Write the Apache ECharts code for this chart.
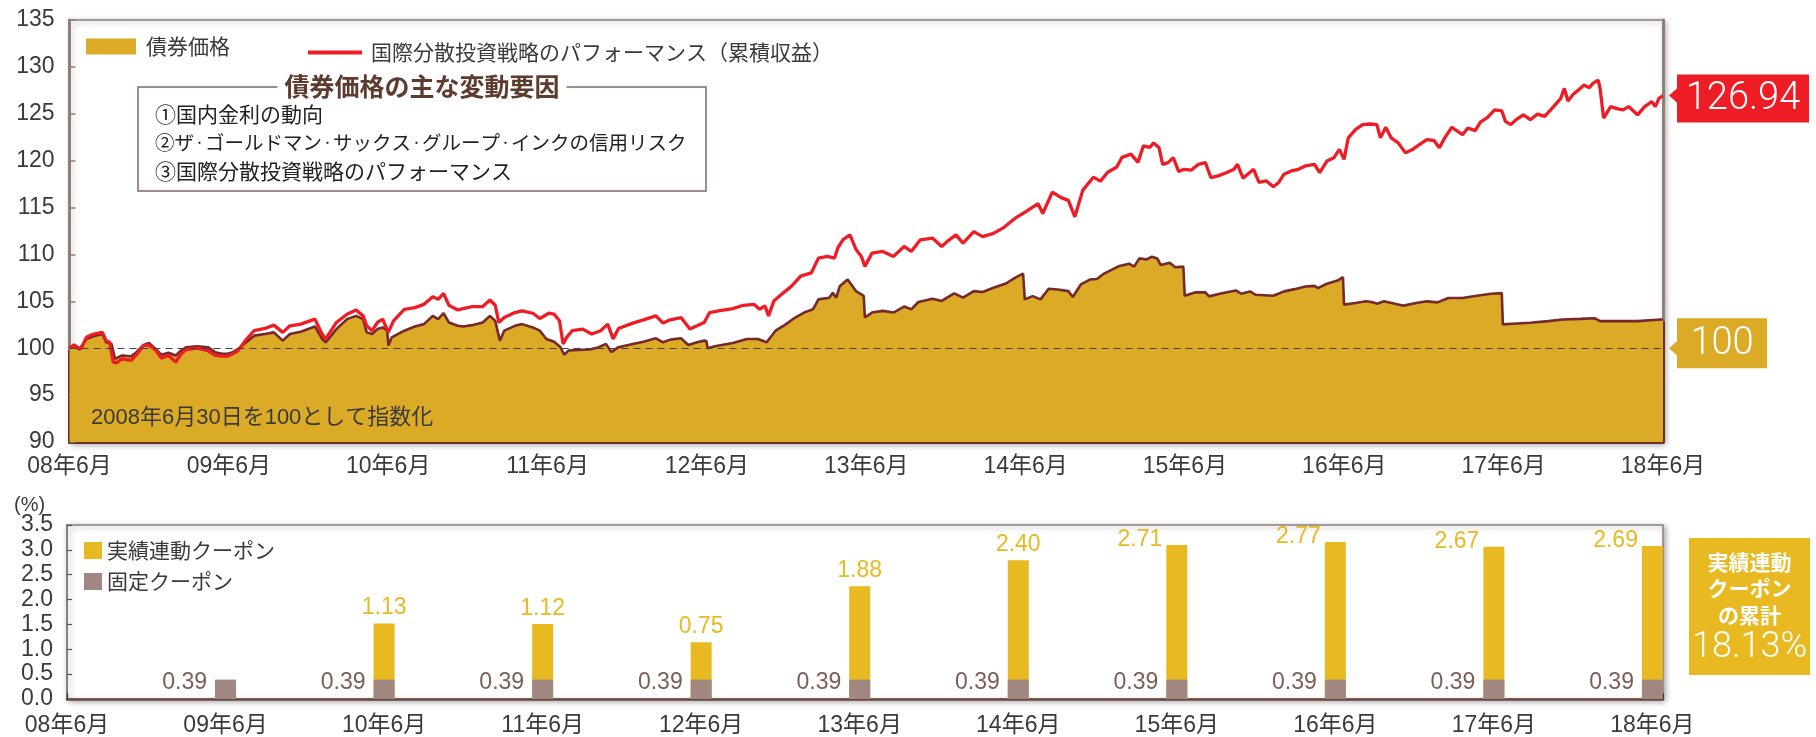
<!DOCTYPE html>
<html><head><meta charset="utf-8">
<script src="https://cdn.jsdelivr.net/npm/echarts@6/dist/echarts.min.js"></script>
<style>html,body{margin:0;padding:0;background:#fff}#c{width:1816px;height:737px}</style>
</head><body><div id="c"></div>
<script>
// ---------------- data ----------------
// x = months since 2008-06-30
const monthTickLabels = ['08年6月','09年6月','10年6月','11年6月','12年6月','13年6月','14年6月','15年6月','16年6月','17年6月','18年6月'];
const bondPrice = [[0,100],[0.33,100.28],[0.74,99.86],[1.27,100.99],[1.81,101.27],[2.48,101.51],[2.75,100.63],[3.16,100.46],[3.43,98.87],[3.96,99.23],[4.64,99.15],[5.04,99.58],[5.58,100.35],[5.98,100.56],[6.52,99.86],[6.92,99.30],[7.46,99.51],[8.00,99.23],[8.40,99.75],[8.80,100.11],[9.61,100.21],[10.42,100.11],[10.96,99.58],[11.49,99.40],[11.90,99.40],[12.30,99.58],[12.70,99.93],[13.24,100.56],[13.91,101.34],[14.72,101.51],[15.39,101.69],[16.06,100.81],[16.60,101.51],[17.41,101.76],[18.48,102.32],[19.02,100.99],[19.29,100.63],[20.10,102.04],[20.90,103.10],[21.58,103.45],[22.11,103.10],[22.38,101.69],[22.79,101.51],[23.19,102.04],[23.59,102.22],[23.92,101.87],[24.02,100.28],[24.27,101.16],[25.21,101.87],[26.01,102.32],[26.69,102.57],[27.36,103.45],[27.76,103.10],[28.17,103.73],[28.57,102.75],[29.24,102.39],[29.64,102.32],[30.32,102.46],[31.12,102.75],[31.66,103.45],[32.06,102.92],[32.41,100.81],[32.74,101.87],[33.54,102.39],[34.08,102.57],[34.89,102.22],[35.42,101.87],[35.91,100.99],[36.50,100.70],[36.98,100.11],[37.25,99.30],[37.58,99.75],[38.38,99.82],[39.19,99.86],[39.86,100.11],[40.00,100.21],[40.40,100.46],[40.80,99.58],[41.34,100.11],[42.42,100.46],[43.22,100.70],[44.16,101.06],[44.70,100.63],[45.24,100.92],[46.05,101.06],[46.59,100.35],[47.26,100.63],[47.80,100.81],[47.96,100.77],[48.06,100.00],[48.60,100.21],[49.95,100.56],[51.02,100.99],[51.83,100.99],[52.50,100.63],[53.17,101.87],[53.85,102.46],[54.65,103.27],[55.32,103.80],[55.99,104.15],[56.40,105.21],[57.21,105.39],[57.48,105.92],[57.74,105.39],[58.01,106.62],[58.60,107.32],[59.22,106.09],[59.63,105.74],[59.81,105.56],[59.90,103.27],[60.43,103.80],[61.24,103.98],[62.05,103.80],[62.85,104.44],[63.39,104.15],[63.93,104.93],[65.00,105.28],[65.68,105.04],[66.62,105.85],[67.29,105.39],[68.10,106.09],[68.77,105.99],[69.58,106.44],[70.52,106.90],[71.19,107.50],[71.81,107.96],[71.94,105.21],[72.53,105.56],[73.12,105.21],[73.74,106.34],[74.41,106.27],[75.22,106.09],[75.55,105.46],[76.16,106.80],[76.84,107.32],[77.37,107.39],[77.91,107.96],[78.99,108.73],[79.79,109.01],[80.17,108.70],[80.57,109.58],[81.11,109.47],[81.51,109.75],[81.91,109.58],[82.18,108.87],[82.85,109.12],[83.26,108.63],[83.88,108.70],[83.98,105.60],[84.74,105.95],[85.54,105.95],[85.81,105.53],[86.62,105.81],[87.83,106.16],[88.23,105.81],[88.90,106.06],[89.31,105.70],[90.65,105.60],[91.46,106.06],[92.27,106.30],[93.07,106.58],[93.75,106.65],[94.01,106.41],[94.69,106.87],[95.49,107.22],[95.90,107.57],[95.98,104.65],[96.84,104.82],[97.64,105.00],[98.18,104.89],[98.45,104.75],[98.99,105.00],[99.80,104.75],[100.47,104.54],[101.41,104.82],[102.22,105.00],[103.02,104.89],[103.83,105.35],[104.90,105.35],[105.98,105.60],[107.06,105.81],[107.86,105.88],[107.94,102.54],[108.67,102.61],[110.01,102.71],[111.36,102.89],[112.43,103.06],[113.78,103.13],[114.85,103.20],[115.26,102.89],[116.74,102.89],[118.08,102.89],[119.83,103.06],[120,103.06]];
const strategyPerf = [[0,100],[0.33,100.35],[0.60,100.11],[0.87,99.93],[1.27,101.16],[1.81,101.51],[2.48,101.69],[2.75,100.81],[3.02,100.63],[3.29,98.52],[3.56,98.45],[3.96,98.87],[4.64,98.70],[5.04,99.30],[5.58,100.28],[5.98,100.35],[6.52,99.75],[6.92,98.94],[7.46,99.23],[8.00,98.52],[8.40,99.40],[8.80,99.86],[9.61,100.00],[10.42,99.75],[10.96,99.23],[11.49,99.15],[11.90,99.15],[12.30,99.40],[12.70,99.75],[13.24,100.81],[13.91,101.87],[14.72,102.11],[15.39,102.46],[16.06,101.69],[16.60,102.39],[17.41,102.57],[18.48,103.10],[19.02,101.51],[19.29,100.99],[20.10,102.75],[20.90,103.63],[21.58,104.08],[22.11,103.45],[22.38,102.39],[22.79,101.87],[23.19,102.75],[23.59,103.10],[24.00,101.69],[24.40,102.92],[25.21,104.15],[26.01,104.33],[26.69,104.68],[27.36,105.49],[27.76,105.21],[28.17,105.85],[28.57,104.58],[29.24,104.08],[29.64,104.23],[30.32,104.44],[31.12,104.44],[31.66,105.14],[32.06,104.58],[32.33,102.75],[32.74,103.27],[33.54,103.80],[34.08,103.98],[34.89,103.73],[35.42,103.17],[36.10,103.73],[36.50,103.63],[36.90,102.92],[37.17,100.46],[37.44,101.16],[37.85,101.87],[38.65,102.04],[39.32,101.51],[40.00,101.87],[40.53,102.57],[40.94,100.99],[41.34,102.11],[42.42,102.68],[43.22,103.03],[44.16,103.45],[44.70,102.68],[45.24,103.03],[46.05,103.27],[46.72,102.04],[47.26,102.39],[47.80,102.75],[48.20,103.80],[48.87,103.98],[49.95,104.23],[50.75,104.58],[51.56,104.68],[51.96,104.15],[52.37,104.51],[52.64,103.45],[53.04,105.04],[53.71,105.85],[54.38,106.62],[55.06,107.68],[55.86,108.03],[56.40,109.61],[57.07,109.79],[57.61,109.61],[57.88,110.77],[58.28,111.62],[58.77,112.08],[59.22,110.56],[59.63,109.79],[59.90,108.73],[60.43,110.14],[61.24,110.32],[62.05,109.79],[62.85,110.85],[63.39,110.32],[64.06,111.55],[65.00,111.73],[65.68,110.85],[66.08,111.37],[66.75,112.08],[67.29,111.20],[68.10,112.43],[68.77,111.90],[69.58,112.25],[70.38,112.89],[71.19,113.84],[71.99,114.54],[72.94,115.42],[73.29,114.37],[74.01,116.65],[74.68,116.06],[75.22,115.77],[75.71,114.01],[76.30,116.83],[77.10,118.24],[77.64,117.82],[78.18,118.77],[78.85,119.30],[79.26,120.35],[79.93,120.70],[80.47,119.82],[80.87,121.58],[81.35,121.41],[81.64,121.90],[82.05,121.37],[82.32,119.61],[82.72,119.79],[83.12,120.32],[83.53,118.84],[83.93,119.08],[84.47,118.98],[85.01,119.61],[85.54,119.79],[85.95,118.20],[86.49,118.38],[87.16,118.73],[87.69,119.08],[87.96,119.61],[88.37,118.13],[89.17,119.08],[89.58,117.68],[90.11,117.85],[90.65,117.22],[91.06,117.68],[91.46,118.56],[92.00,118.91],[92.54,119.08],[93.07,119.44],[93.75,119.61],[94.15,118.73],[94.69,119.96],[95.22,120.32],[95.63,121.20],[95.98,120.14],[96.30,122.43],[96.84,123.31],[97.38,123.84],[97.91,123.91],[98.45,123.84],[98.72,122.43],[99.12,123.56],[99.53,122.43],[100.06,121.90],[100.60,120.85],[101.14,121.20],[101.68,121.73],[102.22,122.25],[102.75,122.15],[103.16,121.37],[103.56,122.43],[104.10,123.56],[104.90,122.78],[105.31,123.49],[105.85,123.20],[106.25,124.12],[106.79,124.61],[107.32,125.42],[107.86,125.32],[108.13,124.19],[108.53,123.84],[108.94,124.37],[109.48,124.89],[110.01,124.37],[110.55,124.96],[111.09,124.72],[111.76,125.77],[112.30,126.65],[112.57,127.71],[112.84,126.37],[113.24,127.08],[113.78,127.71],[114.05,128.06],[114.45,127.78],[114.72,128.24],[115.12,128.59],[115.26,127.71],[115.53,124.54],[116.06,125.77],[116.60,125.53],[117.00,125.42],[117.41,125.77],[118.08,124.89],[118.62,125.77],[119.16,126.30],[119.42,125.77],[119.69,126.65],[120,126.94]];
const baseIndex = 100;
const couponMonths = [12,24,36,48,60,72,84,96,108,120];
const fixedCoupon  = [0.39,0.39,0.39,0.39,0.39,0.39,0.39,0.39,0.39,0.39];
const actualCoupon = [null,1.13,1.12,0.75,1.88,2.40,2.71,2.77,2.67,2.69];
const cumulativeCouponText = '18.13%';
const seriesNames = ['債券価格','国際分散投資戦略のパフォーマンス（累積収益）','実績連動クーポン','固定クーポン'];

// ---------------- styles ----------------
const FONT = "'Liberation Sans','Noto Sans CJK JP',sans-serif";
const CJK = "'Noto Sans CJK JP',sans-serif";
const TXT = '#3a3a3a', FRAME = '#8e7f7a', BROWN = '#6e2f27', LINEBROWN = '#76282a';
const GOLD = '#dbab27', RED = '#ee1d25', YEL = '#e8b920', FIX = '#a0877f';
const pMin = 90, pMax = 135, pStep = 5;
const cut = (v) => (pMax - v) / (pMax - pMin);
const edgeGrad = (v) => new echarts.graphic.LinearGradient(0,0,0,1,[
  {offset:0,color:FRAME},{offset:cut(v),color:FRAME},{offset:cut(v),color:BROWN},{offset:1,color:BROWN}]);
const gridBase = {show:true, backgroundColor:'#fff', borderColor:FRAME, borderWidth:1.5,
  shadowColor:'rgba(0,0,0,0.35)', shadowBlur:6, shadowOffsetX:2, shadowOffsetY:2};

const chart = echarts.init(document.getElementById('c'));
const lastBond = bondPrice[bondPrice.length-1];
const lastPerf = strategyPerf[strategyPerf.length-1];
const monthLabel = (v) => (v % 12 === 0 && monthTickLabels[v / 12]) || '';

const option = {
  animation:false,
  textStyle:{fontFamily:FONT},
  grid:[
    Object.assign({left:69.5, top:20, width:1593.5, height:422}, gridBase),
    Object.assign({left:67, top:525, width:1596, height:176}, gridBase)
  ],
  legend:[
    {left:86, top:36, padding:0, itemWidth:50, itemHeight:16, icon:'rect', selectedMode:false,
     data:[{name:seriesNames[0], itemStyle:{color:GOLD, borderWidth:0}}],
     textStyle:{fontSize:21, color:TXT, fontFamily:CJK, padding:[0,0,0,5]}},
    {left:308, top:42, padding:0, itemWidth:54, itemHeight:4, icon:'rect', selectedMode:false,
     data:[{name:seriesNames[1], itemStyle:{color:RED, borderWidth:0}}],
     textStyle:{fontSize:21, color:TXT, fontFamily:CJK, padding:[0,0,0,4]}},
    {left:84, top:540, padding:0, orient:'vertical', itemWidth:18, itemHeight:17, itemGap:10, icon:'rect', selectedMode:false,
     data:[{name:seriesNames[2], itemStyle:{color:YEL, borderWidth:0}},{name:seriesNames[3], itemStyle:{color:FIX, borderWidth:0}}],
     textStyle:{fontSize:21, color:TXT, fontFamily:CJK}}
  ],
  xAxis:[
    {type:'value', gridIndex:0, min:0, max:120, interval:12,
     axisLine:{show:true, lineStyle:{color:BROWN, width:3}},
     axisTick:{show:true, inside:true, length:6, lineStyle:{color:'#333', width:1.2}},
     axisLabel:{formatter:monthLabel, fontSize:23, color:TXT, margin:13, fontFamily:FONT},
     splitLine:{show:false}},
    {type:'value', gridIndex:1, min:0, max:120.8, interval:12,
     axisLine:{show:true, lineStyle:{color:'#6a4a40', width:2.5}},
     axisTick:{show:true, inside:true, length:6, lineStyle:{color:'#333', width:1.2}},
     axisLabel:{formatter:monthLabel, fontSize:23, color:TXT, margin:15, fontFamily:FONT},
     splitLine:{show:false}}
  ],
  yAxis:[
    {type:'value', gridIndex:0, min:pMin, max:pMax, interval:pStep,
     axisLine:{show:true, lineStyle:{color:edgeGrad(baseIndex), width:3}},
     axisTick:{show:true, inside:true, length:6, lineStyle:{color:FRAME, width:1.5}},
     axisLabel:{fontSize:23, color:TXT, margin:15, fontFamily:FONT},
     splitLine:{show:false}},
    {type:'value', gridIndex:0, position:'right', min:pMin, max:pMax, interval:pStep,
     axisLine:{show:true, lineStyle:{color:edgeGrad(lastBond[1]), width:3}},
     axisTick:{show:false}, axisLabel:{show:false}, splitLine:{show:false}},
    {type:'value', gridIndex:1, min:0, max:3.5, interval:0.5,
     axisLine:{show:true, lineStyle:{color:FRAME, width:2}},
     axisTick:{show:true, inside:true, length:5, lineStyle:{color:'#555', width:1.2}},
     axisLabel:{formatter:(v)=>v.toFixed(1), fontSize:23, color:TXT, margin:14, fontFamily:FONT},
     splitLine:{show:false}}
  ],
  series:[
    {name:seriesNames[0], type:'line', xAxisIndex:0, yAxisIndex:0, data:bondPrice,
     showSymbol:false, symbol:'none', z:2,
     lineStyle:{color:LINEBROWN, width:2.6}, itemStyle:{color:GOLD},
     areaStyle:{color:GOLD, opacity:1, origin:'start'},
     markLine:{silent:true, symbol:'none', label:{show:false},
       lineStyle:{type:[7,5], color:'#4a3f3c', width:1.2},
       data:[{yAxis:baseIndex}]}},
    {name:seriesNames[1], type:'line', xAxisIndex:0, yAxisIndex:0, data:strategyPerf,
     showSymbol:false, symbol:'none', z:3,
     lineStyle:{color:RED, width:3.3}, itemStyle:{color:RED}},
    // total bar (fixed + actual), drawn behind; fixed bar overlaps its lower part
    {name:seriesNames[2], type:'bar', xAxisIndex:1, yAxisIndex:2, barWidth:21,
     itemStyle:{color:YEL},
     data:couponMonths.map((m,i)=>{
       const v = actualCoupon[i];
       if (v == null) return [m, null];
       const total = v + fixedCoupon[i];
       const high = total > 3.0;
       return {value:[m, total], actual:v, label: high
         ? {position:[-4,-5], align:'right', verticalAlign:'middle'}
         : {position:'top', distance:4}};
     }),
     label:{show:true, formatter:(p)=> actualCoupon[p.dataIndex]==null ? '' : actualCoupon[p.dataIndex].toFixed(2),
       fontSize:23, color:YEL, fontFamily:FONT}},
    {name:seriesNames[3], type:'bar', xAxisIndex:1, yAxisIndex:2, barWidth:21, barGap:'-100%',
     itemStyle:{color:FIX},
     data:couponMonths.map((m,i)=>[m, fixedCoupon[i]]),
     label:{show:true, position:[-8,3], align:'right', verticalAlign:'middle',
       formatter:(p)=>p.value[1].toFixed(2), fontSize:23, color:'#7b5f57', fontFamily:FONT}}
  ]
};
chart.setOption(option);

// ---------- annotations ----------
const endPx = chart.convertToPixel({xAxisIndex:0, yAxisIndex:0}, [lastPerf[0], lastPerf[1]]);
const basePx = chart.convertToPixel({xAxisIndex:0, yAxisIndex:0}, [lastBond[0], baseIndex]);
function valueTag(id, px, offY, w, h, color, text) {
  const bx = px[0] + 14, cy = px[1] + offY;
  return {type:'group', id:id, z:100, children:[
    {type:'polygon', z:100, shape:{points:[[px[0]+6, px[1]],[bx+1, px[1]-8],[bx+1, px[1]+8]]}, style:{fill:color}},
    {type:'rect', z:100, shape:{x:bx, y:cy-h/2, width:w, height:h}, style:{fill:color}},
    {type:'text', z:101, x:bx + w/2, y:cy+1, style:{text:text, fill:'#fff', font:"300 38px Roboto, 'Liberation Sans', sans-serif", align:'center', verticalAlign:'middle'}}
  ]};
}
const titleFont = "bold 25px " + CJK;
const itemFont = "21px " + CJK;
chart.setOption({graphic:[
  valueTag('tagPerf', endPx, 3, 132, 48, RED, lastPerf[1].toFixed(2)),
  valueTag('tagBase', basePx, -5, 90, 50, GOLD, String(baseIndex)),
  {type:'text', z:100, x:91, y:418, style:{text:'2008年6月30日を100として指数化', font:"22px " + FONT, fill:TXT, verticalAlign:'middle'}},
  {type:'rect', z:100, shape:{x:138, y:87, width:568, height:104}, style:{fill:'none', stroke:'#7f6a63', lineWidth:1.5}},
  {type:'text', z:101, x:422, y:86, style:{text:'債券価格の主な変動要因', font:titleFont, fill:'#5d3b2f', align:'center', verticalAlign:'middle', backgroundColor:'#fff', padding:[0,7]}},
  {type:'text', z:101, x:155, y:114, style:{text:'①国内金利の動向', font:itemFont, fill:'#222', verticalAlign:'middle'}},
  {type:'text', z:101, x:155, y:143, style:{text:'②ザ{d|・}ゴールドマン{d|・}サックス{d|・}グループ{d|・}インクの信用リスク', font:"19.5px " + CJK, fill:'#222', verticalAlign:'middle',
     rich:{d:{fontSize:11, fontFamily:CJK, fill:'#222', verticalAlign:'middle'}}}},
  {type:'text', z:101, x:155, y:171, style:{text:'③国際分散投資戦略のパフォーマンス', font:itemFont, fill:'#222', verticalAlign:'middle'}},
  {type:'text', z:100, x:14, y:505, style:{text:'(%)', font:"20px " + FONT, fill:TXT, verticalAlign:'middle'}},
  {type:'rect', z:100, shape:{x:1689, y:538, width:121, height:137}, style:{fill:YEL}},
  {type:'text', z:101, x:1749.5, y:562, style:{text:'実績連動', font:"bold 21px " + CJK, fill:'#fff', align:'center', verticalAlign:'middle'}},
  {type:'text', z:101, x:1749.5, y:588, style:{text:'クーポン', font:"bold 21px " + CJK, fill:'#fff', align:'center', verticalAlign:'middle'}},
  {type:'text', z:101, x:1749.5, y:615, style:{text:'の累計', font:"bold 21px " + CJK, fill:'#fff', align:'center', verticalAlign:'middle'}},
  {type:'text', z:101, x:1749.5, y:648, style:{text:cumulativeCouponText, font:"300 36px Roboto, 'Liberation Sans', sans-serif", fill:'#fff', align:'center', verticalAlign:'middle'}}
]});
</script>
</body></html>
